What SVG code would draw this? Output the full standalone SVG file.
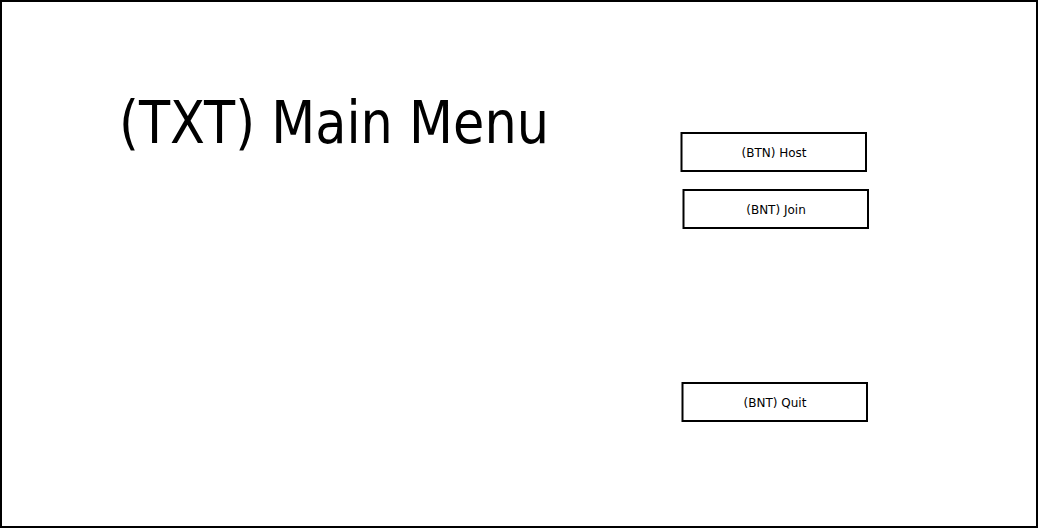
<svg xmlns="http://www.w3.org/2000/svg" width="1039" height="528" viewBox="0 0 1039 528">
<style>
.box{fill:#fff;stroke:#000;stroke-width:2}
.lbl{font-family:"DejaVu Sans","Liberation Sans",sans-serif;font-size:12px;text-anchor:middle;fill:#000}
.title{font-family:"DejaVu Sans","Liberation Sans",sans-serif;font-size:59px;fill:#000}
</style>
<rect x="1" y="1" width="1036" height="526" fill="#fff" stroke="#000" stroke-width="2"/>
<g id="title"><text class="title" x="119" y="143" textLength="430" lengthAdjust="spacingAndGlyphs">(TXT) Main Menu</text></g>
<g id="host"><rect class="box" x="681.5" y="133" width="184.5" height="38"/><text class="lbl" x="774" y="156.5">(BTN) Host</text></g>
<g id="join"><rect class="box" x="683.5" y="190" width="184.5" height="38"/><text class="lbl" x="776" y="213.5">(BNT) Join</text></g>
<g id="quit"><rect class="box" x="682.5" y="383" width="184.5" height="38"/><text class="lbl" x="775" y="406.5">(BNT) Quit</text></g>
<g id="connectors"></g>
</svg>
